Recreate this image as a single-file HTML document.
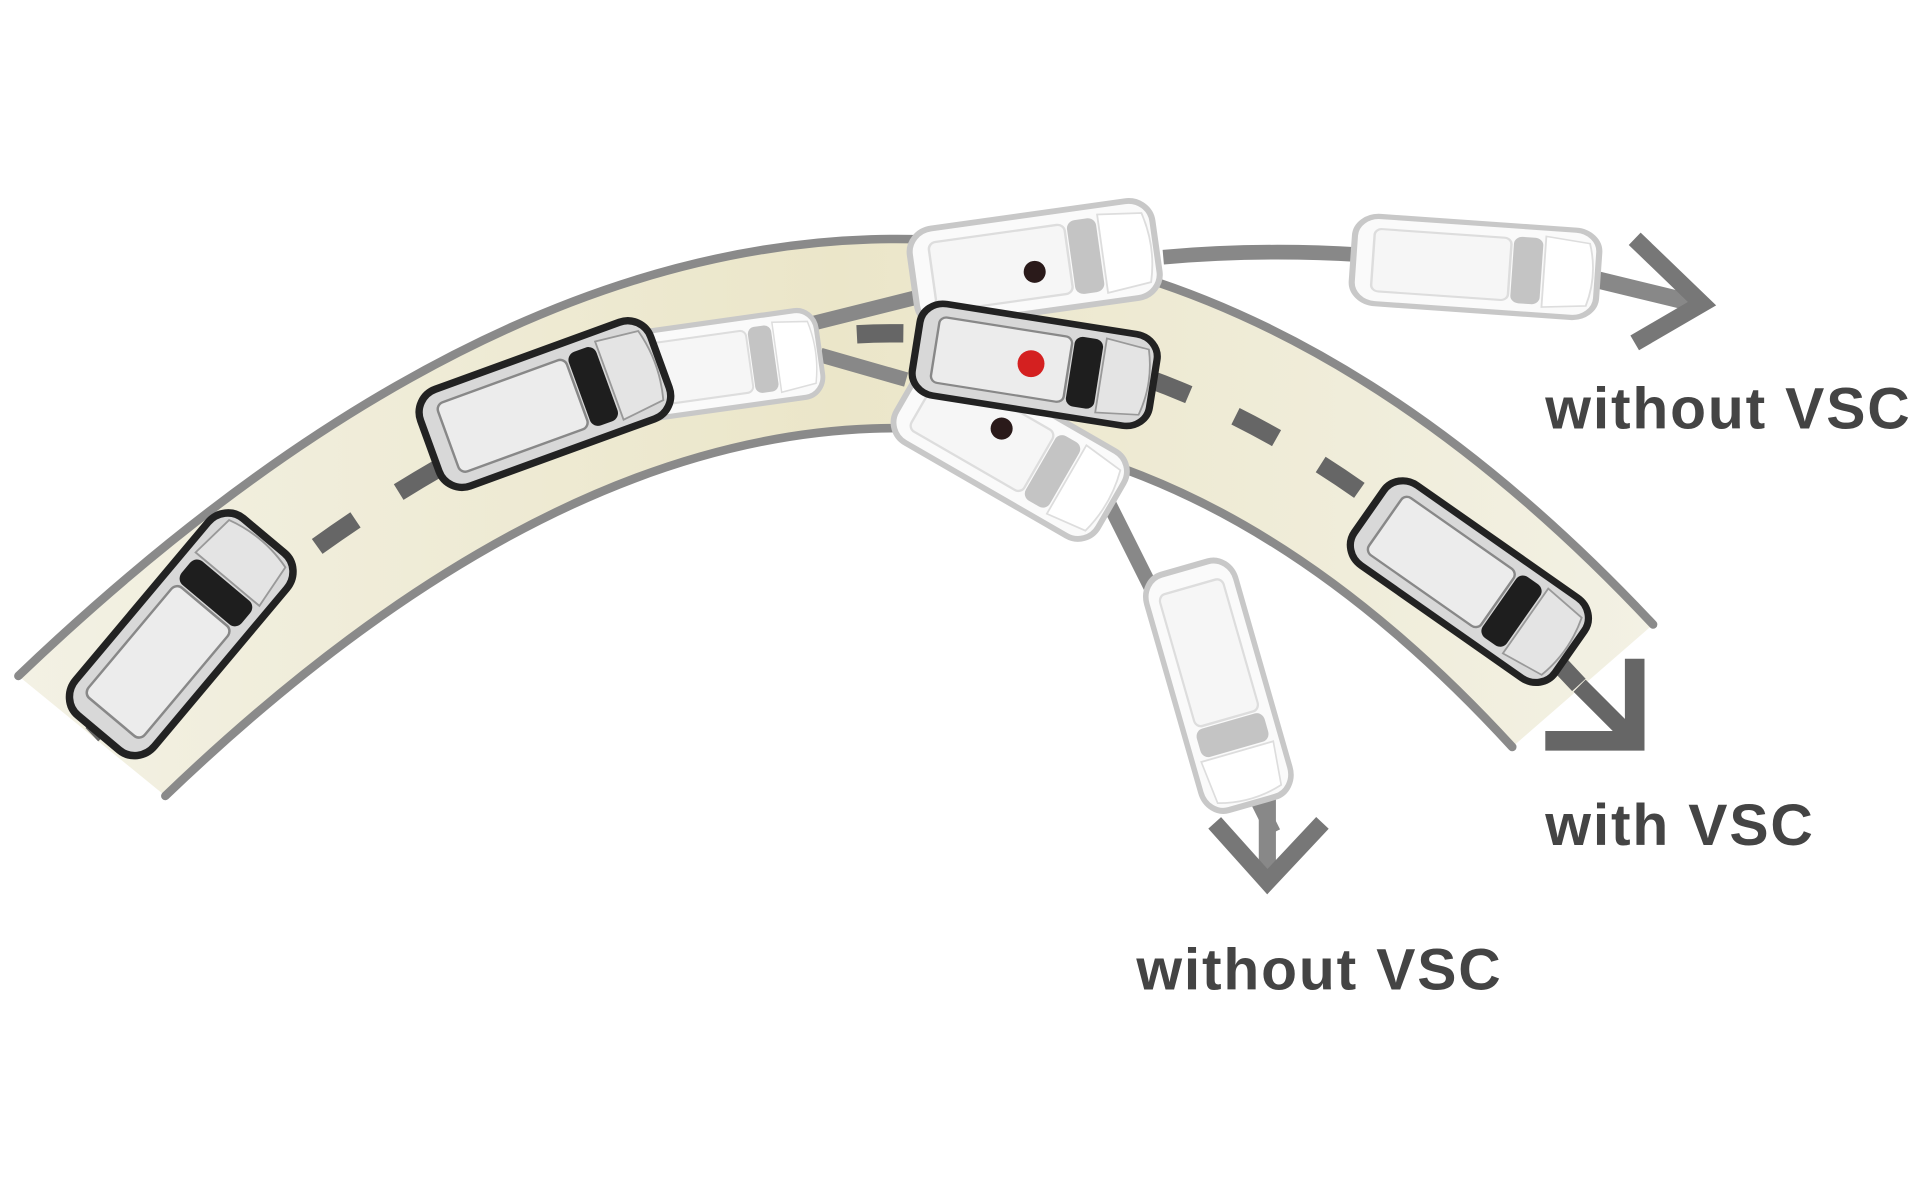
<!DOCTYPE html>
<html><head><meta charset="utf-8"><style>html,body{margin:0;padding:0;background:#fff}svg{display:block}</style></head>
<body>
<svg width="1920" height="1200" viewBox="0 0 1568 980" xmlns="http://www.w3.org/2000/svg">
<defs>
<linearGradient id="rg" x1="0" y1="0" x2="1" y2="0">
<stop offset="0" stop-color="#f3f1e4"/><stop offset="0.5" stop-color="#ebe6c9"/><stop offset="1" stop-color="#f3f1e4"/>
</linearGradient>
<g id="cd">
<rect x="-100" y="-42" width="200" height="84" rx="20" fill="#d8d8d8" stroke="#222" stroke-width="6"/>
<rect x="-84" y="-30" width="112" height="60" rx="6" fill="#ececec" stroke="#888" stroke-width="2"/>
<rect x="30" y="-32" width="24" height="64" rx="7" fill="#1e1e1e"/>
<path d="M56,-34 L92,-30 Q100,0 92,30 L56,34 Z" fill="#e4e4e4" stroke="#999" stroke-width="1.5"/>
</g>
<g id="cf">
<rect x="-100" y="-42" width="200" height="84" rx="20" fill="#fafafa" stroke="#c8c8c8" stroke-width="5"/>
<rect x="-84" y="-30" width="112" height="60" rx="6" fill="#f6f6f6" stroke="#ddd" stroke-width="2"/>
<rect x="30" y="-32" width="24" height="64" rx="7" fill="#c4c4c4"/>
<path d="M56,-34 L92,-30 Q100,0 92,30 L56,34 Z" fill="#fff" stroke="#ddd" stroke-width="1.5"/>
</g>
</defs>
<path d="M15,552 Q740,-140 1350,510 L1235,610 Q740,70 135,650 Z" fill="url(#rg)"/>
<path d="M15,552 Q740,-140 1350,510" fill="none" stroke="#8a8a8a" stroke-width="7" stroke-linecap="round"/>
<path d="M135,650 Q740,70 1235,610" fill="none" stroke="#8a8a8a" stroke-width="7" stroke-linecap="round"/>
<path d="M75,600 Q740,-35 1290,560" fill="none" stroke="#666" stroke-width="15" stroke-dasharray="38,42"/>
<path d="M660,265 L760,240 M950,210 Q1030,203 1110,208" fill="none" stroke="#888" stroke-width="12"/>
<path d="M670,290 L740,310 M900,400 L1040,680" fill="none" stroke="#888" stroke-width="12"/>
<path d="M1290,225 L1385,248" stroke="#888" stroke-width="14"/>
<path d="M1335,195 L1390,248 L1335,280" fill="none" stroke="#777" stroke-width="14"/>
<path d="M1262,605 L1335,605 L1335,538" fill="none" stroke="#666" stroke-width="16"/>
<path d="M1290,560 L1330,600" stroke="#666" stroke-width="14"/>
<path d="M1035,650 L1035,720" stroke="#888" stroke-width="14"/>
<path d="M992,672 L1035,720 L1080,672" fill="none" stroke="#777" stroke-width="14"/>
<use href="#cd" transform="translate(148,518) rotate(-50) scale(1.05,1)"/>
<use href="#cf" transform="translate(590,298) rotate(-8) scale(0.8,0.85)"/>
<use href="#cd" transform="translate(445,330) rotate(-20) scale(1,1)"/>
<use href="#cf" transform="translate(1205,218) rotate(4) scale(1,0.85)"/>
<use href="#cf" transform="translate(845,215) rotate(-8) scale(1,0.95)"/>
<circle cx="845" cy="222" r="9" fill="#2a1a1a"/>
<use href="#cf" transform="translate(825,365) rotate(30) scale(0.95,0.95)"/>
<circle cx="818" cy="350" r="9" fill="#2a1a1a"/>
<use href="#cd" transform="translate(845,298) rotate(9) scale(0.98,0.9)"/>
<circle cx="842" cy="297" r="11" fill="#d42020"/>
<use href="#cd" transform="translate(1200,475) rotate(35) scale(1,0.95)"/>
<use href="#cf" transform="translate(995,560) rotate(74) scale(1,0.9)"/>
<g font-family="Liberation Sans, sans-serif" font-weight="bold" font-size="48" fill="#444" letter-spacing="1.5">
<text x="1262" y="350">without VSC</text>
<text x="1262" y="690">with VSC</text>
<text x="928" y="808">without VSC</text>
</g>
</svg>
</body></html>
